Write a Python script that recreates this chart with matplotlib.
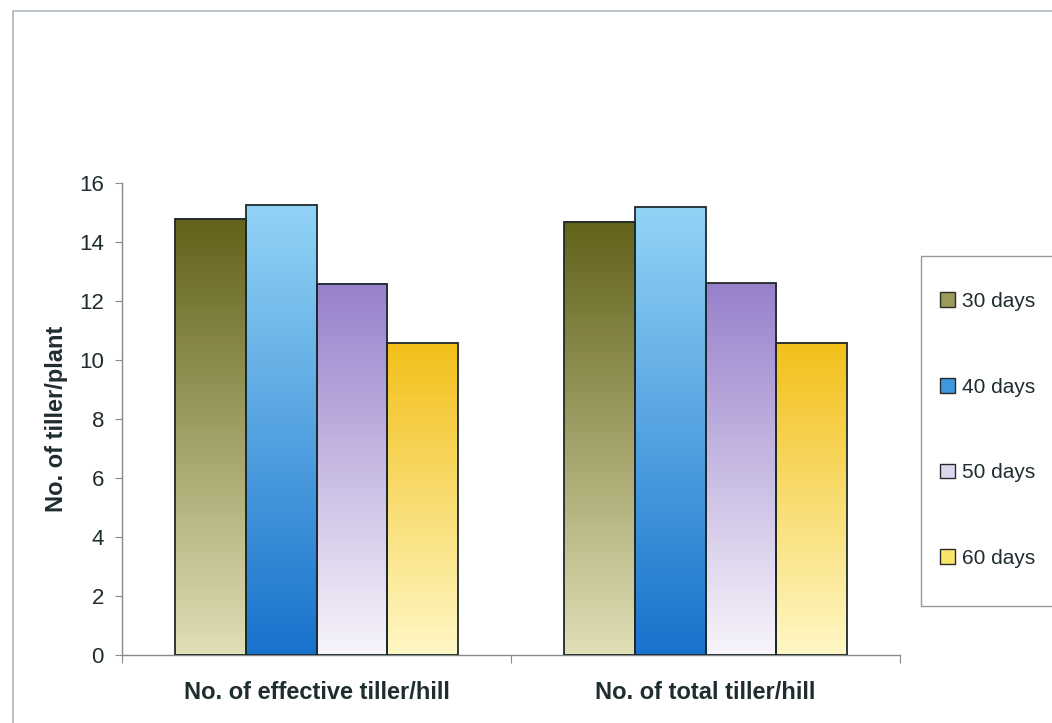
import numpy as np
import matplotlib
matplotlib.use("Agg")
from matplotlib import pyplot as plt
from matplotlib.colors import LinearSegmentedColormap
from matplotlib.patches import Patch, Rectangle
from matplotlib.lines import Line2D

# data
categories = ["No. of effective tiller/hill", "No. of total tiller/hill"]
series = ["30 days", "40 days", "50 days", "60 days"]
d30 = [14.78, 14.69]
d40 = [15.25, 15.18]
d50 = [12.58, 12.60]
d60 = [10.56, 10.58]
values = [d30, d40, d50, d60]

# gradient (top colour, bottom colour) per series
grad = [
    ("#62621a", "#e0dfb6"),
    ("#92d4f6", "#1872cc"),
    ("#9880cb", "#f8f5fb"),
    ("#f3c01a", "#fff8c6"),
]
legend_cols = ["#9c9a58", "#3f97dd", "#dcd6ee", "#f9e46a"]

text_col = "#1f2d30"
plt.rcParams["font.family"] = ["Liberation Sans", "DejaVu Sans"]

W, H = 1052, 723
fig = plt.figure(figsize=(W / 100, H / 100), dpi=100)
ax = fig.add_axes([122 / W, 1 - 655 / H, (900 - 122) / W, (655 - 183) / H])

bar_w = 0.182
x = np.arange(len(categories))

for i, (vals, (top, bot)) in enumerate(zip(values, grad)):
    cmap = LinearSegmentedColormap.from_list(f"g{i}", [bot, top])
    xs = x + (i - 1.5) * bar_w
    for xc, v in zip(xs, vals):
        grad_img = np.linspace(0, 1, 256).reshape(-1, 1)
        ax.imshow(grad_img, cmap=cmap, origin="lower", aspect="auto",
                  extent=(xc - bar_w / 2, xc + bar_w / 2, 0, v), zorder=2,
                  interpolation="bilinear")
        ax.add_patch(Rectangle((xc - bar_w / 2, 0), bar_w, v, fill=False,
                               edgecolor="#1c2a2c", linewidth=1.3, zorder=3))

ax.set_xlim(-0.5, 1.5)
ax.set_ylim(0, 16)

# axes styling
for s in ["top", "right"]:
    ax.spines[s].set_visible(False)
for s in ["left", "bottom"]:
    ax.spines[s].set_color("#8a8a8a")
    ax.spines[s].set_linewidth(1.0)

ax.set_yticks(np.arange(0, 17, 2))
ax.tick_params(axis="y", length=5, color="#8a8a8a", labelsize=16,
               labelcolor=text_col, pad=8)
ax.set_xticks([-0.5, 0.5, 1.5])
ax.set_xticklabels([])
ax.set_xticks(x, minor=True)
ax.set_xticklabels(categories, minor=True, fontsize=17, fontweight="bold",
                   color=text_col)
ax.tick_params(axis="x", which="major", length=6, color="#8a8a8a")
ax.tick_params(axis="x", which="minor", length=0, pad=19)

ax.set_ylabel("No. of tiller/plant", fontsize=17, fontweight="bold",
              color=text_col, labelpad=8)

# legend box and entries
fig.add_artist(Rectangle((921 / W, 1 - 606 / H), 0.2, (606 - 256) / H,
                         transform=fig.transFigure, fill=False,
                         edgecolor="#9a9a9a", linewidth=1.0))
handles = [Patch(facecolor=c, edgecolor="#2a2a2a", linewidth=1.0) for c in legend_cols]
leg = fig.legend(handles, series, loc="upper left",
                 bbox_to_anchor=(940 / W, 1 - 292 / H),
                 frameon=False, fontsize=15,
                 labelspacing=3.2, handlelength=0.7, handleheight=0.7,
                 handletextpad=0.35, borderpad=0, borderaxespad=0)
for t in leg.get_texts():
    t.set_color(text_col)

# outer chart border (left and top edges visible)
fig.add_artist(Line2D([13 / W, 13 / W], [1 - 11 / H, 0], color="#b0b4b8",
                      linewidth=1.2, transform=fig.transFigure))
fig.add_artist(Line2D([13 / W, 1], [1 - 11 / H, 1 - 11 / H], color="#b0bcc4",
                      linewidth=1.2, transform=fig.transFigure))

fig.savefig("out.png", dpi=100)
